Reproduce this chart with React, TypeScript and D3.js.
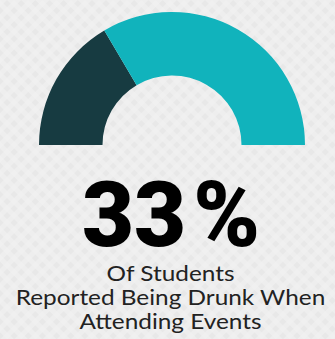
import React from "react";
import * as d3 from "d3";

const categories = ["Drunk", "Not drunk"];
const values = [33, 67];
const colors = ["#173b41", "#11b3bc"];
const bigLabel = "33";
const bigUnit = "%";
const captionLines = ["Of Students", "Reported Being Drunk When", "Attending Events"];

const W = 335;
const H = 339;

export default function App() {
  const cx = 172;
  const cy = 145;
  const outerR = 133;
  const innerR = 69.5;
  const pie = d3
    .pie<number>()
    .sort(null)
    .startAngle(-Math.PI / 2)
    .endAngle(Math.PI / 2);
  const arcs = pie(values);
  const arcGen = d3.arc<d3.PieArcDatum<number>>().innerRadius(innerR).outerRadius(outerR);
  const capX = 170.5;

  return (
    <svg
      width={W}
      height={H}
      style={{ position: "absolute", left: 0, top: 0, display: "block" }}
    >
      <defs>
        <pattern id="hatch" width="10" height="10" patternUnits="userSpaceOnUse" patternTransform="rotate(45)">
          <rect width="10" height="10" fill="#e8e8e8" />
          <rect x="0" y="0" width="5" height="10" fill="#f2f2f2" opacity="0.7" />
          <rect x="0" y="0" width="10" height="5" fill="#f2f2f2" opacity="0.7" />
        </pattern>
      </defs>
      <rect width={W} height={H} fill="url(#hatch)" />
      <g transform={`translate(${cx},${cy})`}>
        {arcs.map((a, i) => (
          <path key={categories[i]} d={arcGen(a) || ""} fill={colors[i]} />
        ))}
      </g>
      <text
        x={171}
        y={246}
        textAnchor="middle"
        fontFamily="Roboto, 'Liberation Sans', sans-serif"
        fontWeight={900}
        fontSize={90}
        fill="#000"
      >
        <tspan>{bigLabel}</tspan>
        <tspan dx={7}>{bigUnit}</tspan>
      </text>
      {captionLines.map((t, i) => (
        <text
          key={t}
          transform={`translate(${capX},${281 + i * 24.2}) scale(1.16,1)`}
          textAnchor="middle"
          fontFamily="Lato, sans-serif"
          fontSize={21}
          fill="#222"
        >
          {t}
        </text>
      ))}
    </svg>
  );
}
